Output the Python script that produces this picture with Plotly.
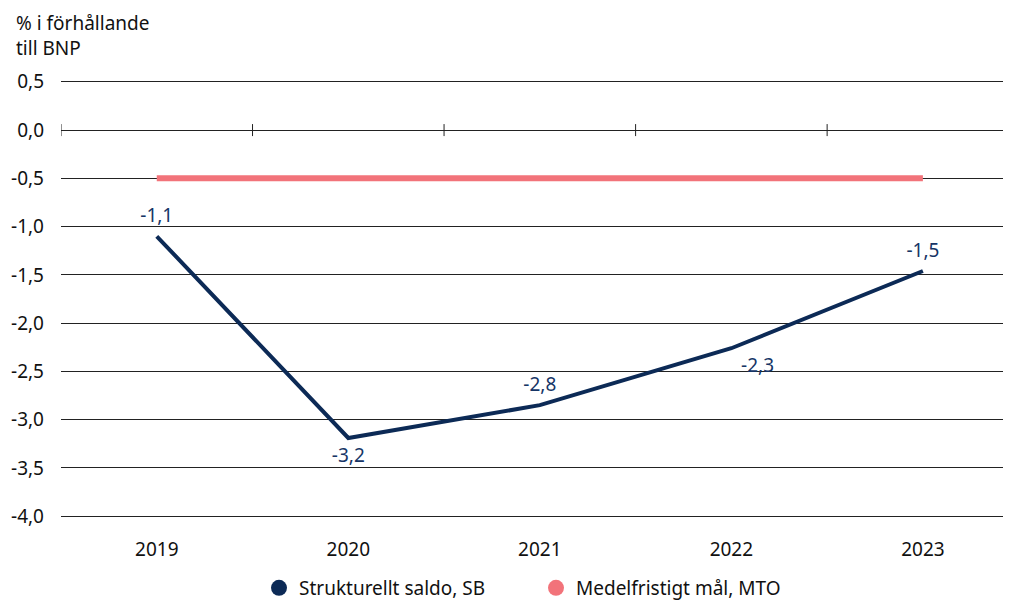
import plotly.graph_objects as go

years = ["2019", "2020", "2021", "2022", "2023"]
sb_values = [-1.10, -3.19, -2.85, -2.26, -1.46]
sb_labels = ["-1,1", "-3,2", "-2,8", "-2,3", "-1,5"]
sb_label_pos = ["top center", "bottom center", "top center", "bottom right", "top center"]
mto_values = [-0.5, -0.5, -0.5, -0.5, -0.5]
y_ticks = [0.5, 0.0, -0.5, -1.0, -1.5, -2.0, -2.5, -3.0, -3.5, -4.0]
y_tick_text = ["0,5", "0,0", "-0,5", "-1,0", "-1,5", "-2,0", "-2,5", "-3,0", "-3,5", "-4,0"]

NAVY = "#0c2a56"
LABEL = "#163566"
SALMON = "#f2737a"
FONT = "Noto Sans"
FS = 19

W, H = 1003, 593
ML, MT, MB = 53, 69, 80
plot_h = H - MT - MB
plot_w = W - ML

fig = go.Figure()
fig.add_trace(go.Scatter(x=years, y=mto_values, mode="lines",
                         line=dict(color=SALMON, width=6), showlegend=False,
                         hoverinfo="skip"))
fig.add_trace(go.Scatter(x=years, y=sb_values, mode="lines+markers+text",
                         line=dict(color=NAVY, width=4),
                         marker=dict(size=14, color="rgba(0,0,0,0)"),
                         text=sb_labels, textposition=sb_label_pos,
                         textfont=dict(color=LABEL, size=FS, family=FONT),
                         showlegend=False))
# legend-only entries with circle markers
fig.add_trace(go.Scatter(x=[None], y=[None], mode="markers",
                         marker=dict(color=NAVY, size=21),
                         name="Strukturellt saldo, SB"))
fig.add_trace(go.Scatter(x=[None], y=[None], mode="markers",
                         marker=dict(color=SALMON, size=21),
                         name="Medelfristigt mål, MTO"))

# tick marks on the zero line at category boundaries
for i in range(len(years)):
    fig.add_shape(type="line", xref="x", yref="y", x0=i - 0.5, x1=i - 0.5,
                  ysizemode="pixel", yanchor=0, y0=-6, y1=6,
                  line=dict(color="#222222", width=1))

fig.update_layout(
    width=W, height=H,
    margin=dict(l=ML, r=0, t=MT, b=MB, autoexpand=False),
    paper_bgcolor="white", plot_bgcolor="white",
    font=dict(family=FONT, size=FS, color="#111111"),
    legend=dict(orientation="h", x=0.5, xanchor="center",
                y=-(580 - (H - MB)) / plot_h, yanchor="middle",
                font=dict(size=FS, family=FONT), itemwidth=30,
                entrywidth=232, entrywidthmode="pixels"),
    annotations=[dict(text="% i förhållande<br>till BNP", xref="paper", yref="paper",
                      x=-(ML - 6) / plot_w, y=1 + (MT - 0) / plot_h,
                      xanchor="left", yanchor="top",
                      align="left", showarrow=False,
                      font=dict(size=FS, family=FONT, color="#111111"))],
)
fig.update_xaxes(type="category", range=[-0.5, 4.46], showgrid=False,
                 showline=False, zeroline=False, ticks="", automargin=False,
                 tickfont=dict(size=FS, family=FONT), ticklabelstandoff=15)
fig.update_yaxes(range=[-4.05, 0.55], tickvals=y_ticks, ticktext=y_tick_text,
                 showgrid=True, gridcolor="#222222", gridwidth=1,
                 zeroline=False, showline=False, ticks="", automargin=False,
                 ticklabelstandoff=16, tickfont=dict(size=FS, family=FONT))

fig.write_html("out.html")
